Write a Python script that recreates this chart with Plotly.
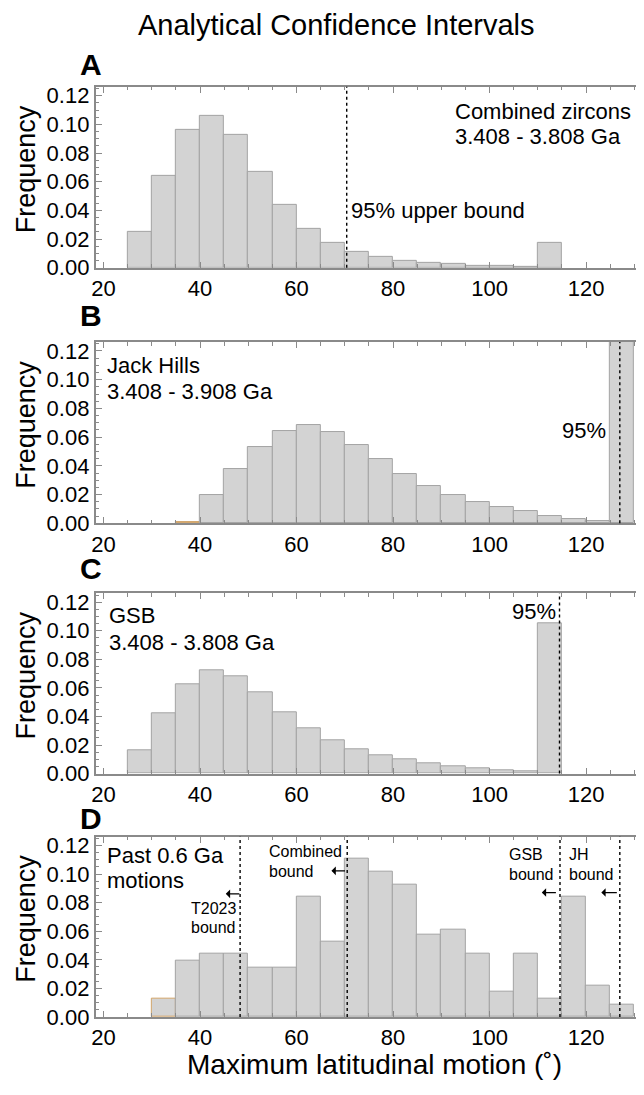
import plotly.graph_objects as go

# ---------------- data ----------------
bin_starts = [25, 30, 35, 40, 45, 50, 55, 60, 65, 70, 75, 80, 85, 90, 95, 100, 105, 110, 115, 120, 125]
bin_width = 5

freq_A = [0.025, 0.064, 0.096, 0.106, 0.093, 0.067, 0.044, 0.027, 0.017, 0.011, 0.0073, 0.0048,
          0.0034, 0.0025, 0.0016, 0.0011, 0.0007, 0.0175, None, None, None]
freq_B = [None, None, 0.0012, 0.020, 0.0375, 0.0534, 0.0643, 0.0682, 0.0639, 0.0548, 0.0445, 0.0343,
          0.0258, 0.0197, 0.0148, 0.0110, 0.0084, 0.0054, 0.0032, 0.0013, 0.13]
freq_C = [0.0166, 0.0425, 0.0623, 0.0725, 0.0682, 0.0568, 0.0432, 0.032, 0.0234, 0.0172, 0.0129, 0.0097,
          0.0071, 0.0053, 0.0037, 0.0023, 0.0014, 0.105, None, None, None]
freq_D = [None, 0.0127, 0.0394, 0.044, 0.044, 0.0348, 0.0348, 0.0841, 0.0528, 0.1108, 0.102, 0.0929,
          0.0575, 0.0614, 0.044, 0.0174, 0.044, 0.0127, 0.0841, 0.0216, 0.0083]

# bins drawn with a tan outline (tiny Mathematica artefacts)
tan_bins_B = [35]
tan_bins_D = [30]

bound_A = [70.4]
bound_B = [127.0]
bound_C = [114.5]
bound_D = [48.3, 70.5, 114.6, 127.0]

x_ticks = [20, 40, 60, 80, 100, 120]
y_ticks = [0.00, 0.02, 0.04, 0.06, 0.08, 0.10, 0.12]

panel_letters = ["A", "B", "C", "D"]
title_text = "Analytical Confidence Intervals"
x_title = "Maximum latitudinal motion (˚)"
y_title = "Frequency"

# ---------------- layout helpers ----------------
# the page body has an 8px default margin: work in window pixels and offset
OFF = 8
W, H = 644 - OFF, 1095 - OFF
FONT = "Liberation Sans, Arial, sans-serif"

def px(x):
    return (x - OFF) / W

def py(y):
    return 1 - (y - OFF) / H

# panel pixel boxes (window coords): (top, bottom)
panels_px = [(85, 268.5), (344, 528), (599, 782), (846, 1029)]
left_px, right_px = 92.5, 643
xrange_ = [18.4, 131.6]
yrange_ = [0, 0.1262]

fill = "#d3d3d3"
edge = "#a3a3a3"
tan = "#d2a56a"
axis_grey = "#8a8a8a"

fig = go.Figure()
all_freqs = [freq_A, freq_B, freq_C, freq_D]
tan_lists = [[], tan_bins_B, [], tan_bins_D]
bounds = [bound_A, bound_B, bound_C, bound_D]

centers = [b + bin_width / 2 for b in bin_starts]

for i, (vals, tans) in enumerate(zip(all_freqs, tan_lists)):
    ax = "" if i == 0 else str(i + 1)
    line_colors = [tan if b in tans else edge for b in bin_starts]
    fig.add_trace(go.Bar(
        x=centers, y=vals, width=bin_width,
        marker=dict(color=fill, line=dict(color=line_colors, width=1)),
        xaxis="x" + ax, yaxis="y" + ax, showlegend=False, hoverinfo="skip",
    ))
    for bx in bounds[i]:
        fig.add_shape(type="line", xref="x" + ax, yref="y" + ax + " domain",
                      x0=bx, x1=bx, y0=0, y1=1,
                      line=dict(color="black", width=1.4, dash="dot"))

layout = dict(
    width=W, height=H, margin=dict(l=0, r=0, t=0, b=0),
    paper_bgcolor="white", plot_bgcolor="white",
    bargap=0, font=dict(family=FONT, color="black"),
)

for i, (top, bot) in enumerate(panels_px):
    ax = "" if i == 0 else str(i + 1)
    layout["xaxis" + ax] = dict(
        domain=[px(left_px), min(1, px(right_px))], range=xrange_, anchor="y" + ax,
        tickvals=x_ticks, ticks="inside", ticklen=6, tickcolor=axis_grey, tickwidth=1,
        showline=True, linecolor=axis_grey, linewidth=2, mirror="ticks",
        showgrid=False, zeroline=False,
        tickfont=dict(size=22, family=FONT, color="black"),
        minor=dict(dtick=5, ticks="inside", ticklen=3.5, tickcolor=axis_grey),
        fixedrange=True,
    )
    layout["yaxis" + ax] = dict(
        domain=[py(bot), py(top)], range=yrange_, anchor="x" + ax,
        tickvals=y_ticks, tickformat=".2f", ticks="inside", ticklen=6, tickcolor=axis_grey,
        showline=True, linecolor=axis_grey, linewidth=2, mirror="ticks",
        showgrid=False, zeroline=False,
        tickfont=dict(size=22, family=FONT, color="black"),
        minor=dict(dtick=0.005, ticks="inside", ticklen=3.5, tickcolor=axis_grey),
        fixedrange=True,
    )

fig.update_layout(**layout)

ann = []

def text(x, y, s, size=22, xanchor="left", bold=False, angle=0):
    ann.append(dict(xref="paper", yref="paper", x=px(x), y=py(y), text=("<b>%s</b>" % s) if bold else s,
                    showarrow=False, xanchor=xanchor, yanchor="middle", textangle=angle,
                    borderpad=0, font=dict(size=size, family=FONT, color="black")))

def arrow(x_head, x_tail, y):
    ann.append(dict(xref="paper", yref="paper", x=px(x_head), y=py(y), text="",
                    showarrow=True, ax=x_tail - x_head, ay=0, arrowhead=1, arrowsize=1.2,
                    arrowwidth=1.2, arrowcolor="black", standoff=0, startstandoff=0))

# title
text(335, 22, title_text, size=29, xanchor="center")
# panel letters
for letter, yc in zip(panel_letters, [62, 317, 574, 828]):
    text(88, yc, letter, size=30, xanchor="center", bold=True)
# y titles
for top, bot in panels_px:
    text(22, (top + bot) / 2 - 8, y_title, size=27, xanchor="center", angle=-90)
# x title
text(373, 1077, x_title, size=28, xanchor="center")

# panel A
text(453, 109.6, "Combined zircons")
text(453, 135.6, "3.408 - 3.808 Ga")
text(349, 210.3, "95% upper bound")
# panel B
text(103, 367.3, "Jack Hills")
text(103, 394.0, "3.408 - 3.908 Ga")
text(608, 434.0, "95%", xanchor="right")
# panel C
text(104.6, 621.6, "GSB")
text(104.6, 649.0, "3.408 - 3.808 Ga")
text(557.7, 617.3, "95%", xanchor="right")
# panel D
text(102.6, 865.6, "Past 0.6 Ga")
text(102.6, 890.6, "motions")
text(187, 919.4, "T2023", size=16)
text(187, 937.7, "bound", size=16)
arrow(223.5, 238.6, 904)
text(266.5, 861.1, "Combined", size=16)
text(266.5, 881.1, "bound", size=16)
arrow(330, 345, 880.7)
text(507.6, 864.4, "GSB", size=16)
text(507.6, 884.4, "bound", size=16)
arrow(542, 557.6, 902.7)
text(568, 864.4, "JH", size=16)
text(568, 884.4, "bound", size=16)
arrow(602, 619, 902.7)

fig.update_layout(annotations=ann)
fig.write_html("out.html")
